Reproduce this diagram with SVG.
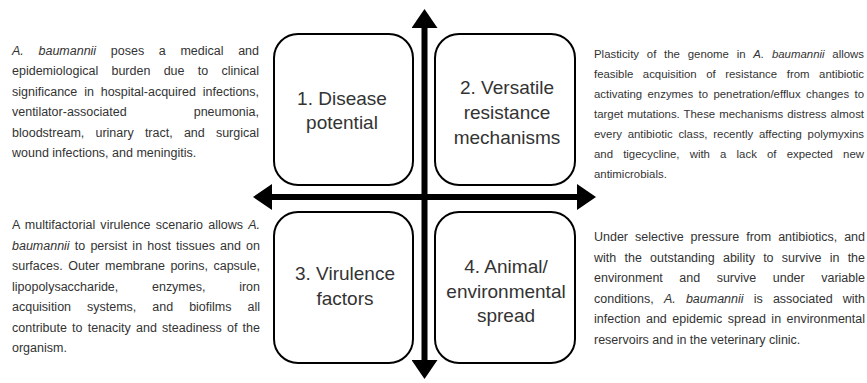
<svg xmlns="http://www.w3.org/2000/svg" width="867" height="383" viewBox="0 0 867 383">
<style>
.box{fill:#fff;stroke:#000;stroke-width:2}
.bt{font-family:"Liberation Sans",Arial,sans-serif;font-size:19px;fill:#333;text-anchor:middle}
.p{font-family:"Liberation Sans",Arial,sans-serif;font-size:12.5px;fill:#333}
.ps{font-family:"Liberation Sans",Arial,sans-serif;font-size:11.4px;fill:#333}
.i{font-style:italic}
.ax{stroke:#000;stroke-width:6;fill:none}
</style>
<defs>
<marker id="head" markerUnits="userSpaceOnUse" markerWidth="19" markerHeight="26" viewBox="0 -13 19 26" refX="1" refY="0" orient="auto-start-reverse">
<path d="M0,-13 L19,0 L0,13 Z" fill="#000"/>
</marker>
</defs>
<rect width="867" height="383" fill="#fff"/>
<g id="connectors">
<line class="ax" x1="424.5" y1="27" x2="424.5" y2="361" marker-start="url(#head)" marker-end="url(#head)"/>
<line class="ax" x1="271" y1="197" x2="578" y2="197" marker-start="url(#head)" marker-end="url(#head)"/>
</g>
<g id="node-1">
<rect class="box" x="274" y="34" width="139" height="151" rx="24"/>
<text class="bt" x="342" y="105">1. Disease</text>
<text class="bt" x="342" y="129">potential</text>
</g>
<g id="node-2">
<rect class="box" x="435" y="34" width="140" height="151" rx="24"/>
<text class="bt" x="507" y="94">2. Versatile</text>
<text class="bt" x="507" y="119">resistance</text>
<text class="bt" x="507" y="144">mechanisms</text>
</g>
<g id="node-3">
<rect class="box" x="274" y="212" width="139" height="151" rx="24"/>
<text class="bt" x="345" y="280">3. Virulence</text>
<text class="bt" x="345" y="305">factors</text>
</g>
<g id="node-4">
<rect class="box" x="435" y="212" width="140" height="151" rx="24"/>
<text class="bt" x="506" y="273">4. Animal/</text>
<text class="bt" x="506" y="297.5">environmental</text>
<text class="bt" x="506" y="322">spread</text>
</g>
<g id="note-1">
<text class="p" x="12" y="54.5" style="word-spacing:11.2px" textLength="247" lengthAdjust="spacing"><tspan class="i">A. baumannii</tspan> poses a medical and</text>
<text class="p" x="12" y="75" style="word-spacing:9.8px" textLength="247" lengthAdjust="spacing">epidemiological burden due to clinical</text>
<text class="p" x="12" y="95.5" style="word-spacing:3.4px" textLength="247" lengthAdjust="spacing">significance in hospital-acquired infections,</text>
<text class="p" x="12" y="116" style="word-spacing:63.6px" textLength="247" lengthAdjust="spacing">ventilator-associated pneumonia,</text>
<text class="p" x="12" y="136.5" style="word-spacing:7.7px" textLength="247" lengthAdjust="spacing">bloodstream, urinary tract, and surgical</text>
<text class="p" x="12" y="157">wound infections, and meningitis.</text>
</g>
<g id="note-3">
<text class="p" x="12" y="229" style="word-spacing:1.7px" textLength="248" lengthAdjust="spacing">A multifactorial virulence scenario allows <tspan class="i">A.</tspan></text>
<text class="p" x="12" y="249.5" style="word-spacing:1.7px" textLength="248" lengthAdjust="spacing"><tspan class="i">baumannii</tspan> to persist in host tissues and on</text>
<text class="p" x="12" y="270" style="word-spacing:2.1px" textLength="248" lengthAdjust="spacing">surfaces. Outer membrane porins, capsule,</text>
<text class="p" x="12" y="290.5" style="word-spacing:30.2px" textLength="248" lengthAdjust="spacing">lipopolysaccharide, enzymes, iron</text>
<text class="p" x="12" y="311" style="word-spacing:12.5px" textLength="248" lengthAdjust="spacing">acquisition systems, and biofilms all</text>
<text class="p" x="12" y="331.5" style="word-spacing:1.7px" textLength="248" lengthAdjust="spacing">contribute to tenacity and steadiness of the</text>
<text class="p" x="12" y="352">organism.</text>
</g>
<g id="note-2">
<text class="ps" x="594" y="58" style="word-spacing:4.6px" textLength="270" lengthAdjust="spacing">Plasticity of the genome in <tspan class="i">A. baumannii</tspan> allows</text>
<text class="ps" x="594" y="78" style="word-spacing:6.4px" textLength="270" lengthAdjust="spacing">feasible acquisition of resistance from antibiotic</text>
<text class="ps" x="594" y="98" style="word-spacing:2.2px" textLength="270" lengthAdjust="spacing">activating enzymes to penetration/efflux changes to</text>
<text class="ps" x="594" y="118" style="word-spacing:0.8px" textLength="270" lengthAdjust="spacing">target mutations. These mechanisms distress almost</text>
<text class="ps" x="594" y="138" style="word-spacing:2.6px" textLength="270" lengthAdjust="spacing">every antibiotic class, recently affecting polymyxins</text>
<text class="ps" x="594" y="158" style="word-spacing:7px" textLength="270" lengthAdjust="spacing">and tigecycline, with a lack of expected new</text>
<text class="ps" x="594" y="178">antimicrobials.</text>
</g>
<g id="note-4">
<text class="p" x="594" y="241" style="word-spacing:3.5px" textLength="271" lengthAdjust="spacing">Under selective pressure from antibiotics, and</text>
<text class="p" x="594" y="261.5" style="word-spacing:4.8px" textLength="271" lengthAdjust="spacing">with the outstanding ability to survive in the</text>
<text class="p" x="594" y="282" style="word-spacing:13px" textLength="271" lengthAdjust="spacing">environment and survive under variable</text>
<text class="p" x="594" y="302.5" style="word-spacing:6.7px" textLength="271" lengthAdjust="spacing">conditions, <tspan class="i">A. baumannii</tspan> is associated with</text>
<text class="p" x="594" y="323" style="word-spacing:2px" textLength="271" lengthAdjust="spacing">infection and epidemic spread in environmental</text>
<text class="p" x="594" y="343.5">reservoirs and in the veterinary clinic.</text>
</g>
</svg>
